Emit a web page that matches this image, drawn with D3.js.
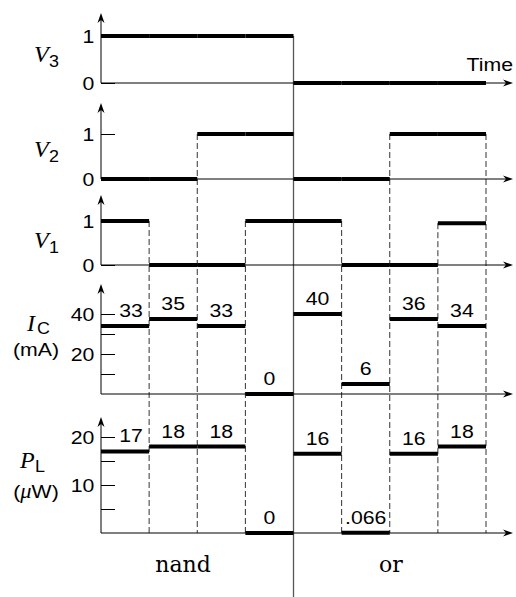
<!DOCTYPE html>
<html>
<head>
<meta charset="utf-8">
<script src="https://cdn.jsdelivr.net/npm/d3@7"></script>
<style>
  body { margin: 0; background: #fff; }
</style>
</head>
<body>
<div id="chart"></div>
<script>
// 8 time slots: first four run the nand gate, last four the or gate
const slots = [0, 1, 2, 3, 4, 5, 6, 7];
const v3 = [1, 1, 1, 1, 0, 0, 0, 0];
const v2 = [0, 0, 1, 1, 0, 0, 1, 1];
const v1 = [1, 0, 0, 1, 1, 0, 0, 0.95];
// levels as drawn, and the numbers printed above them
const icLevel = [34, 37.5, 34, 0, 40, 5, 37.5, 34];
const icText = ['33', '35', '33', '0', '40', '6', '36', '34'];
const plLevel = [17, 18, 18, 0, 16.5, 0.066, 16.5, 18];
const plText = ['17', '18', '18', '0', '16', '.066', '16', '18'];
const logicTicks = [0, 1];
const icTicks = [10, 20, 30, 40];
const icTickLabels = [20, 40];
const plTicks = [5, 10, 15, 20];
const plTickLabels = [10, 20];
const gateNames = ['nand', 'or'];

const width = 516;
const height = 597;
const sansFont = `"Liberation Sans", Arial, sans-serif`;
const serifFont = `"Liberation Serif", "Times New Roman", serif`;
const numSize = 19;
const stretchX = 1.12;   // the sans lettering in the original is a bit wide
const axisEnd = 513;
const splitSlot = 4;

const x = d3.scaleLinear().domain([0, 8]).range([101, 486]);

const panels = [
  {name: 'v3', values: v3, y: d3.scaleLinear().domain([0, 1]).range([83, 36]), top: 13,
   ticks: logicTicks, tickLabels: logicTicks},
  {name: 'v2', values: v2, y: d3.scaleLinear().domain([0, 1]).range([179, 134]), top: 103,
   ticks: logicTicks, tickLabels: logicTicks},
  {name: 'v1', values: v1, y: d3.scaleLinear().domain([0, 1]).range([265, 221]), top: 195,
   ticks: logicTicks, tickLabels: logicTicks},
  {name: 'ic', values: icLevel, text: icText, y: d3.scaleLinear().domain([0, 40]).range([394, 314]), top: 284,
   ticks: icTicks, tickLabels: icTickLabels},
  {name: 'pl', values: plLevel, text: plText, y: d3.scaleLinear().domain([0, 20]).range([533, 437]), top: 417,
   ticks: plTicks, tickLabels: plTickLabels}
];

const svg = d3.select('#chart')
  .append('svg')
    .attr('width', width)
    .attr('height', height)
    .style('display', 'block');

// put a text at (px, py) and widen it a little
const wide = (sel, px, py) => sel.attr('transform', `translate(${px},${py}) scale(${stretchX},1)`);

// ---- vertical guide lines between slots ----
const logicPanels = panels.slice(0, 3);
const bottomY = panels[4].y(0);

const boundaryTop = b => {
  for (const p of logicPanels) {
    const left = p.values[b - 1];
    const right = b < 8 ? p.values[b] : 0;
    if (left !== right) return p.y(Math.max(left, right));
  }
  return bottomY;
};

const boundaries = slots.map(d => d + 1).filter(b => b !== splitSlot);

svg.append('g').attr('class', 'guides')
  .selectAll('line')
  .data(boundaries)
  .join('line')
    .attr('x1', d => x(d))
    .attr('x2', d => x(d))
    .attr('y1', d => boundaryTop(d))
    .attr('y2', bottomY)
    .attr('stroke', '#333')
    .attr('stroke-width', 1)
    .attr('stroke-dasharray', '6,3');

svg.append('line')
  .attr('x1', x(splitSlot))
  .attr('x2', x(splitSlot))
  .attr('y1', boundaryTop(splitSlot))
  .attr('y2', height)
  .attr('stroke', '#555')
  .attr('stroke-width', 1.3);

// ---- panels ----
const arrowRight = (tx, ty) => `M${tx},${ty}L${tx - 10},${ty - 3.5}L${tx - 7},${ty}L${tx - 10},${ty + 3.5}Z`;
const arrowUp = (tx, ty) => `M${tx},${ty}L${tx - 3.5},${ty + 10}L${tx},${ty + 7}L${tx + 3.5},${ty + 10}Z`;

panels.forEach(p => {
  const g = svg.append('g').attr('class', `panel-${p.name}`);
  const x0 = x(0);
  const y0 = p.y(0);

  // ticks + tick labels
  g.append('g')
    .attr('transform', `translate(${x0},0)`)
    .call(d3.axisLeft(p.y)
      .tickValues(p.ticks)
      .tickSize(-14)
      .tickPadding(6)
      .tickFormat(d => p.tickLabels.includes(d) ? d : ''))
    .call(a => a.select('.domain').remove())
    .call(a => a.selectAll('.tick line').attr('stroke', '#000'))
    .call(a => a.selectAll('.tick text')
      .attr('fill', '#000')
      .attr('transform', `scale(${stretchX},1)`)
      .style('font', `${numSize}px ${sansFont}`));

  // axis lines with arrows
  g.append('line')
    .attr('x1', x0).attr('x2', axisEnd - 7)
    .attr('y1', y0).attr('y2', y0)
    .attr('stroke', '#000').attr('stroke-width', 1);
  g.append('path').attr('d', arrowRight(axisEnd, y0)).attr('fill', '#000');

  g.append('line')
    .attr('x1', x0).attr('x2', x0)
    .attr('y1', y0).attr('y2', p.top + 7)
    .attr('stroke', '#000').attr('stroke-width', 1);
  g.append('path').attr('d', arrowUp(x0, p.top)).attr('fill', '#000');

  // levels
  g.selectAll('.level')
    .data(slots)
    .join('line')
      .attr('class', 'level')
      .attr('x1', d => x(d))
      .attr('x2', d => x(d + 1))
      .attr('y1', d => p.y(p.values[d]))
      .attr('y2', d => p.y(p.values[d]))
      .attr('stroke', '#000')
      .attr('stroke-width', 4);

  if (p.text) {
    g.selectAll('.val')
      .data(slots)
      .join('text')
        .attr('class', 'val')
        .attr('transform', d => `translate(${x(d + 0.5) + (d === 0 ? 6 : 0)},${p.y(p.values[d]) - 9}) scale(${stretchX},1)`)
        .attr('text-anchor', 'middle')
        .style('font', `${numSize}px ${sansFont}`)
        .text(d => p.text[d]);
  }
});

// ---- variable names on the left ----
const varLabel = (main, sub, mx, my, sx, sy) => {
  svg.append('text')
    .attr('x', mx).attr('y', my)
    .style('font', `italic 24px ${serifFont}`)
    .text(main);
  wide(svg.append('text'), sx, sy)
    .style('font', `16px ${sansFont}`)
    .text(sub);
};

varLabel('V', '3', 34, 62, 49, 67);
varLabel('V', '2', 34, 157, 49, 162);
varLabel('V', '1', 34, 248, 49, 253);
varLabel('I', 'C', 27, 331, 37, 334);
varLabel('P', 'L', 20, 468, 35, 472);

wide(svg.append('text'), 36, 356)
  .attr('text-anchor', 'middle')
  .style('font', `${numSize}px ${sansFont}`)
  .text('(mA)');

const uw = wide(svg.append('text'), 36, 498)
  .attr('text-anchor', 'middle')
  .style('font', `${numSize}px ${sansFont}`);
uw.append('tspan').text('(');
uw.append('tspan').style('font', `italic 20px ${serifFont}`).text('\u03bc');
uw.append('tspan').text('W)');

wide(svg.append('text'), axisEnd, 71)
  .attr('text-anchor', 'end')
  .style('font', `${numSize}px ${sansFont}`)
  .text('Time');

// ---- gate names under the plot ----
svg.selectAll('.gate')
  .data(gateNames)
  .join('text')
    .attr('class', 'gate')
    .attr('x', (d, i) => i === 0 ? 183 : 391)
    .attr('y', 572)
    .attr('text-anchor', 'middle')
    .style('font', `22px "DejaVu Serif", serif`)
    .text(d => d);
</script>
</body>
</html>
